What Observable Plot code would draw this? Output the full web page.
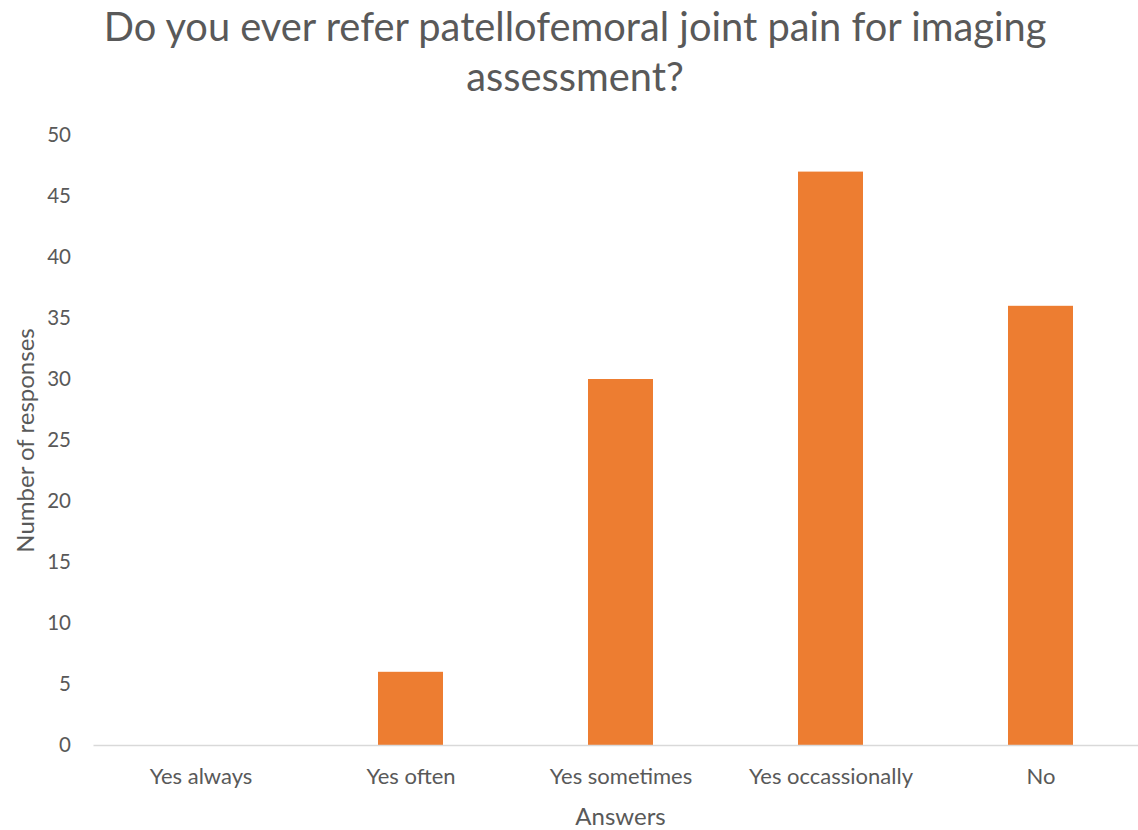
<!DOCTYPE html>
<html>
<head>
<meta charset="utf-8">
<script src="https://cdn.jsdelivr.net/npm/d3@7"></script>
<script src="https://cdn.jsdelivr.net/npm/@observablehq/plot@0.6"></script>
<style>
  html, body { margin: 0; padding: 0; background: #fff; overflow: hidden; }
  #wrap { position: relative; width: 1138px; height: 830px; font-family: Lato, "Noto Sans", sans-serif; }
  #title {
    position: absolute; left: 0; top: 1px; width: 1150px;
    text-align: center; color: #595959; font-size: 39.8px; line-height: 50px;
  }
  #chart { position: absolute; left: 0; top: 120px; }
</style>
</head>
<body>
<div id="wrap">
  <div id="title">Do you ever refer patellofemoral joint pain for imaging<br>assessment?</div>
  <div id="chart"></div>
</div>
<script>
// Survey answers and the number of responses for each
const answers = ["Yes always", "Yes often", "Yes sometimes", "Yes occassionally", "No"];
const responses = [0, 6, 30, 47, 36];
const yTicks = [0, 5, 10, 15, 20, 25, 30, 35, 40, 45, 50];

const rows = answers.map((a, i) => ({answer: a, count: responses[i]}));

const grey = "#595959";

const chart = Plot.plot({
  width: 1138,
  height: 710,
  marginTop: 15,
  marginBottom: 85,
  marginLeft: 93.5,
  marginRight: 0,
  style: {fontFamily: "Lato, 'Noto Sans', sans-serif", fontSize: "21px", color: grey, background: "transparent"},
  x: {
    domain: answers,
    range: [93.5, 1147],
    paddingInner: 0.689,
    paddingOuter: 0.3445,
    label: null
  },
  y: {domain: [0, 50], ticks: yTicks, label: null},
  marks: [
    Plot.barY(rows, {x: "answer", y: "count", fill: "#ED7D31"}),
    Plot.ruleY([0], {stroke: "#d9d9d9", strokeWidth: 1.5}),
    Plot.axisY({ticks: yTicks, tickSize: 0, tickPadding: 23, fill: grey, fontSize: 20.5, label: null}),
    Plot.axisX({tickSize: 0, tickPadding: 23, fill: grey, fontSize: 22, label: null}),
    // axis titles
    Plot.text(["Number of responses"], {
      frameAnchor: "left", textAnchor: "middle", dx: -68, rotate: -90, fill: grey, fontSize: 24
    }),
    Plot.text(["Answers"], {
      frameAnchor: "bottom", dx: 4.25, dy: 79, fill: grey, fontSize: 24
    })
  ]
});
document.getElementById("chart").appendChild(chart);
</script>
</body>
</html>
